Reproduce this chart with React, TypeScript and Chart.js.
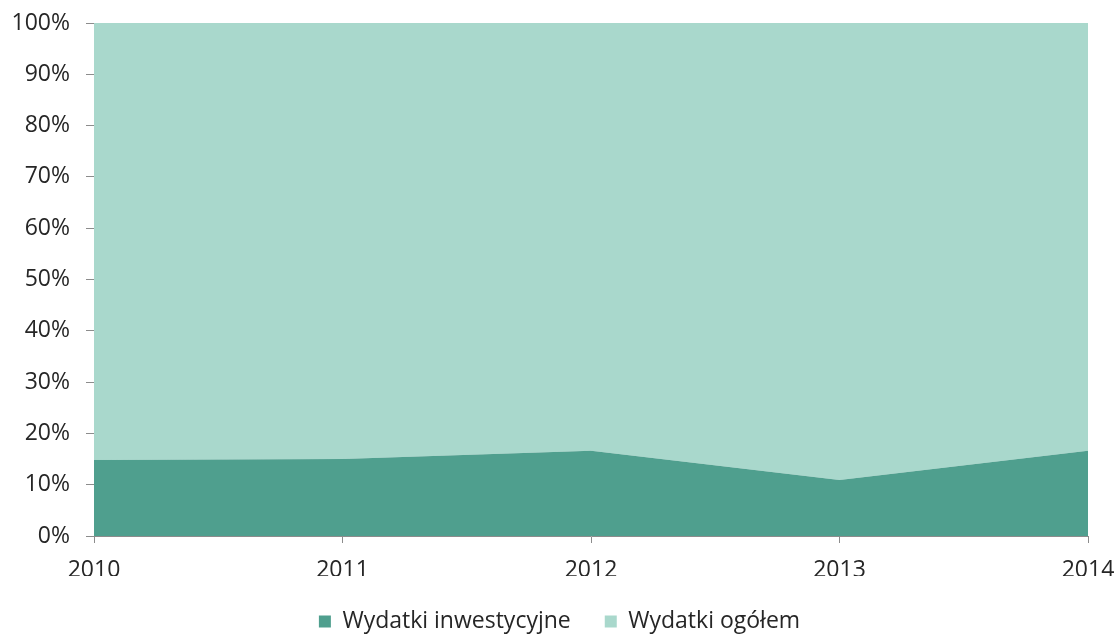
import React, { useEffect, useRef } from "react";
import { Chart, registerables } from "chart.js";

Chart.register(...registerables);

const years = ["2010", "2011", "2012", "2013", "2014"];
const investmentShare = [14.8, 15.0, 16.6, 10.9, 16.6];
const totalShare = [100, 100, 100, 100, 100];
const yTicks = [0, 10, 20, 30, 40, 50, 60, 70, 80, 90, 100];

const darkColor = "#4f9f8e";
const lightColor = "#a9d8cc";
const axisColor = "#8c8c8c";
const textColor = "#262626";
const fontFamily = "'Open Sans', 'DejaVu Sans', sans-serif";

const legendHeightPlugin = {
  id: "legendHeight",
  beforeInit(chart: any) {
    const legend = chart.legend;
    if (!legend) return;
    const origFit = legend.fit;
    legend.fit = function (this: any) {
      origFit.call(this);
      this.height = 62;
    };
  },
};

export default function App() {
  const canvasRef = useRef<HTMLCanvasElement | null>(null);

  useEffect(() => {
    const canvas = canvasRef.current;
    if (!canvas) return;
    const chart = new Chart(canvas, {
      type: "line",
      data: {
        labels: years,
        datasets: [
          {
            label: "Wydatki inwestycyjne",
            data: investmentShare,
            backgroundColor: darkColor,
            borderColor: darkColor,
            borderWidth: 0,
            pointRadius: 0,
            fill: "origin",
            tension: 0,
            order: 0,
          },
          {
            label: "Wydatki ogółem",
            data: totalShare,
            backgroundColor: lightColor,
            borderColor: lightColor,
            borderWidth: 0,
            pointRadius: 0,
            fill: "-1",
            tension: 0,
            order: 1,
          },
        ],
      },
      plugins: [legendHeightPlugin],
      options: {
        animation: false,
        responsive: true,
        maintainAspectRatio: false,
        layout: { padding: { left: 0, right: 0, top: 23, bottom: 0 } },
        plugins: {
          tooltip: { enabled: false },
          legend: {
            position: "bottom",
            labels: {
              boxWidth: 12,
              boxHeight: 12,
              padding: 34,
              color: textColor,
              font: { family: fontFamily, size: 23 },
            },
          },
        },
        scales: {
          x: {
            type: "category",
            offset: false,
            afterFit: (scale: any) => {
              scale.height = 40;
              scale.paddingLeft = 0;
              scale.paddingRight = 31;
            },
            grid: {
              display: true,
              drawOnChartArea: false,
              drawTicks: true,
              tickLength: 7,
              color: axisColor,
            },
            border: { display: true, color: axisColor, width: 1 },
            ticks: {
              color: textColor,
              padding: 14,
              maxRotation: 0,
              font: { family: fontFamily, size: 23 },
            },
          },
          y: {
            min: 0,
            max: 100,
            afterBuildTicks: (scale: any) => {
              scale.ticks = yTicks.map((v) => ({ value: v }));
            },
            afterFit: (scale: any) => {
              scale.width = 94;
              scale.paddingTop = 0;
              scale.paddingBottom = 0;
            },
            grid: {
              display: true,
              drawOnChartArea: false,
              drawTicks: true,
              tickLength: 8,
              color: axisColor,
            },
            border: { display: true, color: axisColor, width: 1 },
            ticks: {
              color: textColor,
              padding: 16,
              font: { family: fontFamily, size: 23 },
              callback: (v: any) => `${v}%`,
            },
          },
        },
      },
    });
    return () => chart.destroy();
  }, []);

  return (
    <div
      style={{
        position: "fixed",
        left: 0,
        top: 0,
        width: 1119,
        height: 638,
        background: "#ffffff",
      }}
    >
      <canvas ref={canvasRef} />
    </div>
  );
}
